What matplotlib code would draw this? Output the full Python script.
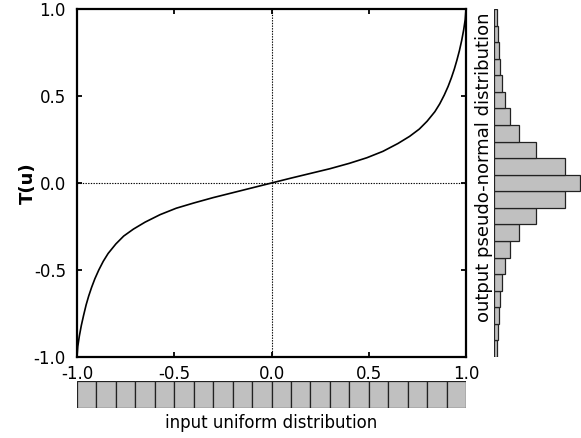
import matplotlib
matplotlib.use("Agg")
import matplotlib.pyplot as plt
import numpy as np

# ---- data ----
u_vals = [-1.0, -0.996, -0.988, -0.978, -0.966, -0.953, -0.940, -0.925, -0.908, -0.888,
          -0.865, -0.840, -0.80, -0.76, -0.71, -0.65, -0.573, -0.49, -0.40, -0.30,
          -0.20, -0.10, 0.0, 0.10, 0.20, 0.30, 0.40, 0.49, 0.573, 0.65,
          0.71, 0.76, 0.80, 0.84, 0.865, 0.888, 0.908, 0.925, 0.940, 0.953,
          0.966, 0.978, 0.988, 0.996, 1.0]
T_vals = [-1.0, -0.94, -0.88, -0.82, -0.76, -0.70, -0.65, -0.60, -0.55, -0.50,
          -0.45, -0.405, -0.35, -0.305, -0.265, -0.225, -0.182, -0.145, -0.115, -0.084,
          -0.056, -0.028, 0.0, 0.028, 0.055, 0.082, 0.113, 0.145, 0.182, 0.227,
          0.268, 0.31, 0.355, 0.41, 0.455, 0.505, 0.555, 0.605, 0.655, 0.705,
          0.76, 0.82, 0.88, 0.94, 1.0]

# input uniform histogram: 20 equal bins over [-1, 1]
uniform_counts = [1.0] * 20
# output histogram: 21 bins over [-1, 1], listed from bottom (-1) to top (+1)
normal_counts = [2.7, 3.7, 4.7, 6.0, 8.0, 11.0, 16.0, 24.7, 41.7, 71.0, 86.0,
                 71.3, 41.7, 24.7, 16.0, 11.0, 8.3, 6.0, 5.0, 4.0, 3.3]

xticks = [-1.0, -0.5, 0.0, 0.5, 1.0]
yticks = [-1.0, -0.5, 0.0, 0.5, 1.0]

plt.rcParams['font.family'] = ['DejaVu Sans']

W, H = 581, 438
fig = plt.figure(figsize=(W / 100, H / 100), dpi=100)

def fax(x0, y0, x1, y1):
    return fig.add_axes([x0 / W, 1 - y1 / H, (x1 - x0) / W, (y1 - y0) / H])

# main axes
ax = fax(77, 9, 466, 357)
ax.plot(u_vals, T_vals, color='black', lw=1.2, zorder=3)
ax.axhline(0, color='black', lw=0.8, ls=(0, (1.2, 1.2)), zorder=2)
ax.axvline(0, color='black', lw=0.8, ls=(0, (1.2, 1.2)), zorder=2)
ax.set_xlim(-1, 1)
ax.set_ylim(-1, 1)
ax.set_xticks(xticks)
ax.set_yticks(yticks)
ax.set_xticklabels([f"{v:.1f}" for v in xticks])
ax.set_yticklabels([f"{v:.1f}" for v in yticks])
ax.tick_params(direction='in', length=3.5, width=1.3, labelsize=12,
               top=True, right=True, pad=6)
ax.tick_params(axis='y', pad=8)
for s in ax.spines.values():
    s.set_linewidth(1.6)
ax.set_ylabel('T(u)', fontsize=13, fontweight='bold')
ax.yaxis.set_label_coords((37 - 77) / 389, 0.5)

# bottom uniform histogram
axb = fax(77, 381, 466, 408)
edges_u = np.linspace(-1, 1, len(uniform_counts) + 1)
axb.bar(edges_u[:-1], uniform_counts, width=np.diff(edges_u), align='edge',
        color='#c0c0c0', edgecolor='#222222', linewidth=0.9)
axb.set_xlim(-1, 1)
axb.set_ylim(0, 1)
axb.axis('off')
fig.text(271.5 / W, 1 - 423 / H, 'input uniform distribution', ha='center',
         va='center', fontsize=12)

# right pseudo-normal histogram
axr = fax(494, 9, 581, 357)
edges_n = np.linspace(-1, 1, len(normal_counts) + 1)
axr.barh(edges_n[:-1], normal_counts, height=np.diff(edges_n), align='edge',
         color='#c0c0c0', edgecolor='#222222', linewidth=0.9)
axr.set_ylim(-1, 1)
axr.set_xlim(0, 87)
axr.axis('off')
fig.text(484 / W, 1 - 167 / H, 'output pseudo-normal distribution', ha='center',
         va='center', rotation=90, fontsize=13)

fig.savefig('out.png', dpi=100)
